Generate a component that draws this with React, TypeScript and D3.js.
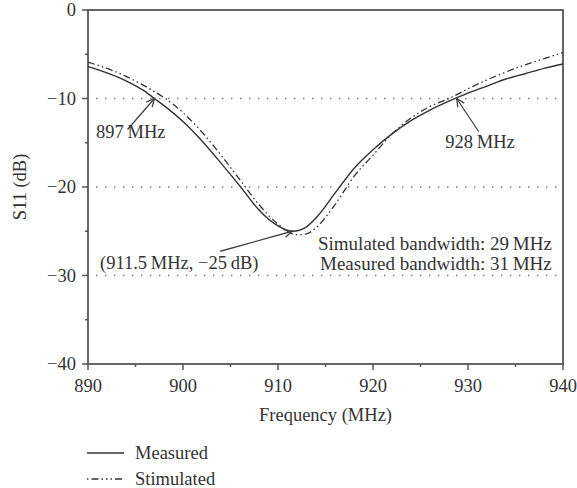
import * as d3 from 'd3';
import React from 'react';

// frequency (MHz) and S11 (dB)
const measuredFreq = [890, 892, 894, 896, 897, 898, 900, 902, 904, 906, 908, 910, 911.5, 913, 914, 916, 918, 920, 922, 924, 926, 928, 930, 932, 934, 936, 938, 940];
const measuredS11 = [-6.4, -7.1, -8.0, -9.2, -10.0, -10.8, -12.6, -14.8, -17.3, -19.9, -22.6, -24.4, -25.0, -24.5, -23.5, -20.7, -17.9, -15.8, -14.0, -12.5, -11.3, -10.3, -9.4, -8.6, -7.8, -7.2, -6.6, -6.1];

const simFreq = [890, 892, 894, 896, 898, 900, 902, 904, 906, 908, 910, 912, 913, 914, 916, 918, 920, 922, 924, 926, 928, 930, 932, 934, 936, 938, 940];
const simS11 = [-5.9, -6.6, -7.5, -8.6, -9.9, -11.6, -13.8, -16.4, -19.2, -22.0, -24.2, -25.4, -25.3, -24.6, -22.0, -18.8, -16.4, -14.0, -12.2, -10.9, -10.0, -8.9, -7.9, -7.0, -6.2, -5.5, -4.8];

const xTicks = [890, 900, 910, 920, 930, 940];
const xMinor = [895, 905, 915, 925, 935];
const yTicks = [0, -10, -20, -30, -40];
const yMinor = [-5, -15, -25, -35];
const gridLevels = [-10, -20, -30];

const legendNames = ['Measured', 'Stimulated'];

const font = '"Liberation Serif", "Times New Roman", serif';
const ink = '#333';
const axisInk = '#555';

export default function App() {
  const width = 577;
  const height = 488;
  const left = 88;
  const right = 563;
  const top = 10;
  const bottom = 364;

  const x = d3.scaleLinear().domain([890, 940]).range([left, right]);
  const y = d3.scaleLinear().domain([-40, 0]).range([bottom, top]);

  const line = d3.line<[number, number]>()
    .x(d => x(d[0]))
    .y(d => y(d[1]))
    .curve(d3.curveMonotoneX);

  const measured = line(measuredFreq.map((f, i) => [f, measuredS11[i]] as [number, number])) || '';
  const simulated = line(simFreq.map((f, i) => [f, simS11[i]] as [number, number])) || '';

  const dashDot = '7,3,1.5,3,1.5,3';

  // annotation arrows: tip in data coords, tail offset in pixels
  const notes = [
    { tip: [897, -10], dx: -27, dy: 31, label: '897\u2009MHz', tx: 96, ty: 138, anchor: 'start' },
    { tip: [928.8, -10], dx: 22, dy: 33, label: '928\u2009MHz', tx: 480, ty: 148, anchor: 'middle' },
    { tip: [911.5, -25], dx: -72, dy: 20, label: '(911.5\u2009MHz, \u221225\u2009dB)', tx: 100, ty: 269, anchor: 'start' },
  ];

  const arrow = (n: typeof notes[0], i: number) => {
    const hx = x(n.tip[0]);
    const hy = y(n.tip[1]);
    const tx = hx + n.dx;
    const ty = hy + n.dy;
    const ang = Math.atan2(ty - hy, tx - hx);
    const len = 9;
    const spread = 0.45;
    const a1 = [hx + len * Math.cos(ang + spread), hy + len * Math.sin(ang + spread)];
    const a2 = [hx + len * Math.cos(ang - spread), hy + len * Math.sin(ang - spread)];
    return (
      <g key={i} stroke="#444" strokeWidth={1.3} fill="none">
        <line x1={tx} y1={ty} x2={hx} y2={hy} />
        <polyline points={`${a1[0]},${a1[1]} ${hx},${hy} ${a2[0]},${a2[1]}`} />
      </g>
    );
  };

  return (
    <svg width={width} height={height} style={{ position: 'absolute', left: 0, top: 0, background: '#fff' }}
      fontFamily={font} fontSize={18.5} fill={ink}>
      {/* dotted grid */}
      {gridLevels.map(v => (
        <line key={v} x1={left + 8} x2={right - 6} y1={y(v)} y2={y(v)}
          stroke="#777" strokeWidth={1.4} strokeDasharray="1.4,7.6" />
      ))}

      {/* frame */}
      <rect x={left} y={top} width={right - left} height={bottom - top} fill="none" stroke={axisInk} strokeWidth={1.8} />

      {/* x ticks */}
      {xTicks.map(t => (
        <g key={t}>
          <line x1={x(t)} x2={x(t)} y1={bottom} y2={bottom + 6} stroke={axisInk} strokeWidth={1.5} />
          <text x={x(t)} y={bottom + 28} textAnchor="middle">{t}</text>
        </g>
      ))}
      {xMinor.map(t => (
        <line key={t} x1={x(t)} x2={x(t)} y1={bottom} y2={bottom + 3} stroke={axisInk} strokeWidth={1.5} />
      ))}

      {/* y ticks */}
      {yTicks.map(t => (
        <g key={t}>
          <line x1={left - 6} x2={left} y1={y(t)} y2={y(t)} stroke={axisInk} strokeWidth={1.5} />
          <text x={left - 12} y={y(t)} dy="0.33em" textAnchor="end">{t < 0 ? `\u2212${-t}` : t}</text>
        </g>
      ))}
      {yMinor.map(t => (
        <line key={t} x1={left - 3} x2={left} y1={y(t)} y2={y(t)} stroke={axisInk} strokeWidth={1.5} />
      ))}

      {/* axis titles */}
      <text x={(left + right) / 2} y={421} textAnchor="middle">Frequency (MHz)</text>
      <text transform={`translate(26,${(top + bottom) / 2}) rotate(-90)`} textAnchor="middle">S11 (dB)</text>

      {/* curves */}
      <path d={simulated} fill="none" stroke={ink} strokeWidth={1.3} strokeDasharray={dashDot} />
      <path d={measured} fill="none" stroke={ink} strokeWidth={1.4} />

      {/* annotations */}
      {notes.map(arrow)}
      {notes.map((n, i) => (
        <text key={i} x={n.tx} y={n.ty} textAnchor={n.anchor as any}>{n.label}</text>
      ))}
      <text x={318} y={250} fontSize={19}>Simulated bandwidth: 29{'\u2009'}MHz</text>
      <text x={320} y={270} fontSize={19}>Measured bandwidth: 31{'\u2009'}MHz</text>

      {/* legend */}
      {legendNames.map((name, i) => (
        <g key={name} transform={`translate(87,${453 + i * 26})`}>
          <line x1={0} x2={37} y1={0} y2={0} stroke={ink} strokeWidth={1.4}
            strokeDasharray={i === 1 ? '1.5,3,7,3,1.5,3,1.5,3' : undefined} />
          <text x={48} y={0} dy="0.33em">{name}</text>
        </g>
      ))}
    </svg>
  );
}
